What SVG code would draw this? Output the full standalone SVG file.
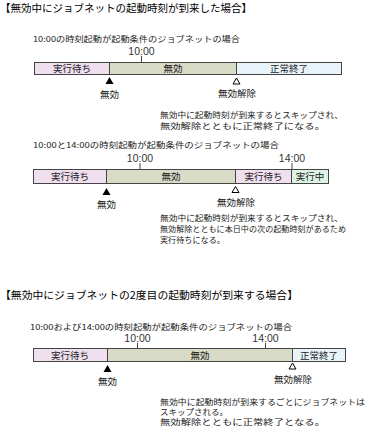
<svg xmlns="http://www.w3.org/2000/svg" width="367" height="429" viewBox="0 0 367 429">
<style>
text{font-family:"Noto Sans CJK JP","Noto Sans",sans-serif;fill:#222}
.title{font-size:10.5px;fill:#000}
.sub{font-size:8px}
.time{font-family:"Liberation Sans","Noto Sans",sans-serif;font-size:10.5px;fill:#333}
.lbl{font-size:9.5px;text-anchor:middle}
.note{font-size:8px}
.bar{stroke:#444;stroke-width:1}
.wait{fill:#efdfef}
.dis{fill:#d8dbc6}
.end{fill:#e8f4fa}
.run{fill:#ddf3e3}
.tick{stroke:#444;stroke-width:1}
.solid{fill:#000}
.open{fill:#fff;stroke:#000;stroke-width:1}
</style>

<!-- Section 1 -->
<text class="title" x="0" y="12" textLength="252" lengthAdjust="spacingAndGlyphs">【無効中にジョブネットの起動時刻が到来した場合】</text>
<text class="sub" x="33" y="42" textLength="207" lengthAdjust="spacingAndGlyphs">10:00の時刻起動が起動条件のジョブネットの場合</text>
<g id="bar1">
  <rect class="bar wait" x="34.5" y="62.5" width="75" height="12"/>
  <rect class="bar dis" x="109.5" y="62.5" width="127" height="12"/>
  <rect class="bar end" x="236.5" y="62.5" width="105" height="12"/>
  <text class="lbl" x="72" y="72">実行待ち</text>
  <text class="lbl" x="173" y="72">無効</text>
  <text class="lbl" x="289" y="72">正常終了</text>
</g>
<g id="time1">
  <text class="time" x="141.5" y="55" text-anchor="middle">10:00</text>
  <line class="tick" x1="141.5" y1="56" x2="141.5" y2="62"/>
</g>
<g id="mark1">
  <polygon class="solid" points="109.5,77 105.5,84 113.5,84"/>
  <text class="lbl" x="109.5" y="98">無効</text>
  <polygon class="open" points="236.5,78 233,84 240,84"/>
  <text class="lbl" x="237" y="97">無効解除</text>
</g>
<g id="note1">
  <text class="note" x="160" y="118" textLength="183" lengthAdjust="spacingAndGlyphs">無効中に起動時刻が到来するとスキップされ、</text>
  <text class="note" x="160" y="129" textLength="165" lengthAdjust="spacingAndGlyphs">無効解除とともに正常終了になる。</text>
</g>

<!-- Section 2 -->
<text class="sub" x="33" y="148" textLength="246" lengthAdjust="spacingAndGlyphs">10:00と14:00の時刻起動が起動条件のジョブネットの場合</text>
<g id="bar2">
  <rect class="bar wait" x="33.5" y="169.5" width="73" height="14"/>
  <rect class="bar dis" x="106.5" y="169.5" width="129" height="14"/>
  <rect class="bar wait" x="235.5" y="169.5" width="56" height="14"/>
  <rect class="bar run" x="291.5" y="169.5" width="37" height="14"/>
  <text class="lbl" x="70" y="180">実行待ち</text>
  <text class="lbl" x="171" y="180">無効</text>
  <text class="lbl" x="263.5" y="180">実行待ち</text>
  <text class="lbl" x="310" y="180">実行中</text>
</g>
<g id="time2">
  <text class="time" x="140" y="162" text-anchor="middle">10:00</text>
  <line class="tick" x1="140" y1="163" x2="140" y2="169"/>
  <text class="time" x="292" y="162" text-anchor="middle">14:00</text>
  <line class="tick" x1="292" y1="163" x2="292" y2="169"/>
</g>
<g id="mark2">
  <polygon class="solid" points="106.5,188 102.5,195 110.5,195"/>
  <text class="lbl" x="106.5" y="208">無効</text>
  <polygon class="open" points="235.5,186.5 232,192.5 239,192.5"/>
  <text class="lbl" x="236" y="206">無効解除</text>
</g>
<g id="note2">
  <text class="note" x="160" y="221" textLength="183" lengthAdjust="spacingAndGlyphs">無効中に起動時刻が到来するとスキップされ、</text>
  <text class="note" x="160" y="232" textLength="186" lengthAdjust="spacingAndGlyphs">無効解除とともに本日中の次の起動時刻があるため</text>
  <text class="note" x="160" y="243" textLength="65" lengthAdjust="spacingAndGlyphs">実行待ちになる。</text>
</g>

<!-- Section 3 -->
<text class="title" x="0" y="299" textLength="298" lengthAdjust="spacingAndGlyphs">【無効中にジョブネットの2度目の起動時刻が到来する場合】</text>
<text class="sub" x="30" y="329.5" textLength="262" lengthAdjust="spacingAndGlyphs">10:00および14:00の時刻起動が起動条件のジョブネットの場合</text>
<g id="bar3">
  <rect class="bar wait" x="33.5" y="348.5" width="74" height="13"/>
  <rect class="bar dis" x="107.5" y="348.5" width="185" height="13"/>
  <rect class="bar end" x="292.5" y="348.5" width="53" height="13"/>
  <text class="lbl" x="70" y="358.5">実行待ち</text>
  <text class="lbl" x="200" y="358.5">無効</text>
  <text class="lbl" x="319" y="358.5">正常終了</text>
</g>
<g id="time3">
  <text class="time" x="137.5" y="342" text-anchor="middle">10:00</text>
  <line class="tick" x1="137.5" y1="343" x2="137.5" y2="348"/>
  <text class="time" x="265.5" y="342" text-anchor="middle">14:00</text>
  <line class="tick" x1="265.5" y1="343" x2="265.5" y2="348"/>
</g>
<g id="mark3">
  <polygon class="solid" points="107.5,365 103.5,372 111.5,372"/>
  <text class="lbl" x="107.5" y="385">無効</text>
  <polygon class="open" points="292.5,363 289,369 296,369"/>
  <text class="lbl" x="293" y="383">無効解除</text>
</g>
<g id="note3">
  <text class="note" x="160" y="405" textLength="205" lengthAdjust="spacingAndGlyphs">無効中に起動時刻が到来するごとにジョブネットは</text>
  <text class="note" x="160" y="415" textLength="68" lengthAdjust="spacingAndGlyphs">スキップされる。</text>
  <text class="note" x="160" y="425" textLength="165" lengthAdjust="spacingAndGlyphs">無効解除とともに正常終了となる。</text>
</g>
</svg>
